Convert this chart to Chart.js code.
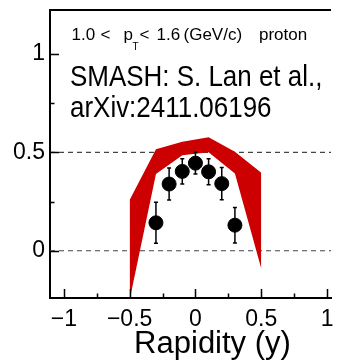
<!DOCTYPE html>
<html lang="en">
<head>
<meta charset="UTF-8">
<title>Proton rapidity</title>
<script src="https://cdn.jsdelivr.net/npm/chart.js"></script>
<style>
    html, body { margin: 0; padding: 0; background: #fff; }
    #wrap { width: 339px; height: 364px; }
</style>
</head>
<body>
<div id="wrap"><canvas id="rapChart" width="339" height="364"></canvas></div>
<script>
// measured points with symmetric errors
const rapidity = [-0.3, -0.2, -0.1, 0, 0.1, 0.2, 0.3];
const v1 = [0.142, 0.339, 0.403, 0.445, 0.401, 0.341, 0.13];
const v1Err = [0.104, 0.081, 0.064, 0.055, 0.066, 0.082, 0.09];

// SMASH model band (upper / lower edge)
const bandRapidity = [-0.5, -0.3, -0.1, 0.1, 0.3, 0.5];
const bandHigh = [0.258, 0.515, 0.554, 0.576, 0.503, 0.396];
const bandLow = [-0.25, 0.39, 0.485, 0.50, 0.393, -0.09];

// dashed reference levels and axis ticks
const refLevels = [0, 0.5];
const xTicks = [-1, -0.75, -0.5, -0.25, 0, 0.25, 0.5, 0.75, 1];
const yTicks = [0, 0.25, 0.5, 0.75, 1];
const xRange = [-1.105, 1.03];
const yRange = [-0.24, 1.223];

const FONT = "'Liberation Sans', Arial, Helvetica, sans-serif";
const isMajor = v => Math.abs(v * 2 - Math.round(v * 2)) < 1e-6;
const fmt = v => String(v).replace('-', '\u2212');

const toXY = (xs, ys) => xs.map((x, i) => ({ x: x, y: ys[i] }));

// error bars, inward ticks, top frame line and the text labels
const decorations = {
    id: 'decorations',
    afterDatasetsDraw(chart) {
        const { ctx, scales: { x, y } } = chart;
        ctx.save();
        ctx.strokeStyle = '#000';
        ctx.lineWidth = 1.5;
        rapidity.forEach((r, i) => {
            const px = x.getPixelForValue(r);
            const top = y.getPixelForValue(v1[i] + v1Err[i]);
            const bot = y.getPixelForValue(v1[i] - v1Err[i]);
            ctx.beginPath();
            ctx.moveTo(px, top); ctx.lineTo(px, bot);
            ctx.moveTo(px - 2, top); ctx.lineTo(px + 2, top);
            ctx.moveTo(px - 2, bot); ctx.lineTo(px + 2, bot);
            ctx.stroke();
        });
        ctx.restore();
    },
    afterDraw(chart) {
        const { ctx, chartArea: a, scales: { x, y } } = chart;
        ctx.save();
        ctx.strokeStyle = '#000';
        ctx.lineWidth = 1.5;
        ctx.beginPath();
        xTicks.forEach(v => {
            const px = Math.round(x.getPixelForValue(v)) + 0.5;
            ctx.moveTo(px, a.bottom);
            ctx.lineTo(px, a.bottom - (isMajor(v) ? 9 : 4.5));
        });
        yTicks.forEach(v => {
            const py = Math.round(y.getPixelForValue(v)) + 0.5;
            ctx.moveTo(a.left, py);
            ctx.lineTo(a.left + (isMajor(v) ? 9 : 4.5), py);
        });
        ctx.stroke();

        ctx.lineWidth = 2;
        ctx.beginPath();
        ctx.moveTo(a.left - 1, a.top);
        ctx.lineTo(a.right, a.top);
        ctx.stroke();

        ctx.fillStyle = '#000';
        ctx.textBaseline = 'alphabetic';
        ctx.textAlign = 'left';
        ctx.font = '17px ' + FONT;
        ctx.fillText('1.0', 71.5, 40);
        ctx.fillText('<', 100.5, 40);
        ctx.fillText('p', 123.5, 40);
        ctx.fillText('<', 139.5, 40);
        ctx.fillText('1.6', 156.5, 40);
        ctx.fillText('(GeV/c)', 183.5, 40);
        ctx.fillText('proton', 259, 40);
        ctx.font = '10px ' + FONT;
        ctx.fillText('T', 132.5, 50);

        ctx.save();
        ctx.translate(70, 0);
        ctx.scale(0.865, 1);
        ctx.font = '30px ' + FONT;
        ctx.fillText('SMASH: S. Lan et al.,', 0, 85.5);
        ctx.fillText('arXiv:2411.06196', 0, 117);
        ctx.restore();

        ctx.textAlign = 'center';
        ctx.font = '31px ' + FONT;
        ctx.fillText('Rapidity (y)', 212.5, 352.5);
        ctx.restore();
    }
};

const refSets = refLevels.map(v => ({
    type: 'line',
    data: toXY(xRange, [v, v]),
    borderColor: '#444',
    borderWidth: 1.2,
    borderDash: [5, 4],
    pointRadius: 0,
    fill: false
}));

new Chart(document.getElementById('rapChart'), {
    type: 'scatter',
    data: {
        datasets: [
            {
                data: toXY(rapidity, v1),
                backgroundColor: '#000',
                borderColor: '#000',
                pointRadius: 7,
                pointHoverRadius: 7
            },
            {
                type: 'line',
                data: toXY(bandRapidity, bandLow),
                borderColor: 'rgba(0,0,0,0)',
                borderWidth: 0,
                pointRadius: 0,
                fill: false
            },
            {
                type: 'line',
                data: toXY(bandRapidity, bandHigh),
                borderColor: 'rgba(0,0,0,0)',
                backgroundColor: '#cc0000',
                borderWidth: 0,
                pointRadius: 0,
                fill: '-1'
            },
            ...refSets
        ]
    },
    options: {
        responsive: false,
        animation: false,
        layout: { padding: { top: 10, right: 0, left: 0, bottom: 0 } },
        plugins: {
            legend: { display: false },
            tooltip: { enabled: false }
        },
        scales: {
            x: {
                type: 'linear',
                min: xRange[0],
                max: xRange[1],
                afterBuildTicks: s => { s.ticks = xTicks.map(v => ({ value: v })); },
                afterFit: s => { s.height = 66; s.paddingLeft = 0; s.paddingRight = 0; },
                grid: { display: false, drawTicks: false },
                border: { display: true, color: '#000', width: 2 },
                ticks: {
                    autoSkip: false,
                    maxRotation: 0,
                    padding: 8,
                    color: '#000',
                    font: { family: FONT, size: 23 },
                    callback: v => isMajor(v) ? fmt(v) : ''
                }
            },
            y: {
                type: 'linear',
                min: yRange[0],
                max: yRange[1],
                afterBuildTicks: s => { s.ticks = yTicks.map(v => ({ value: v })); },
                afterFit: s => { s.width = 50; s.paddingTop = 0; s.paddingBottom = 0; },
                grid: { display: false, drawTicks: false },
                border: { display: true, color: '#000', width: 2 },
                ticks: {
                    autoSkip: false,
                    padding: 5,
                    color: '#000',
                    font: { family: FONT, size: 23 },
                    callback: v => isMajor(v) ? fmt(v) : ''
                }
            }
        }
    },
    plugins: [decorations]
});
</script>
</body>
</html>
